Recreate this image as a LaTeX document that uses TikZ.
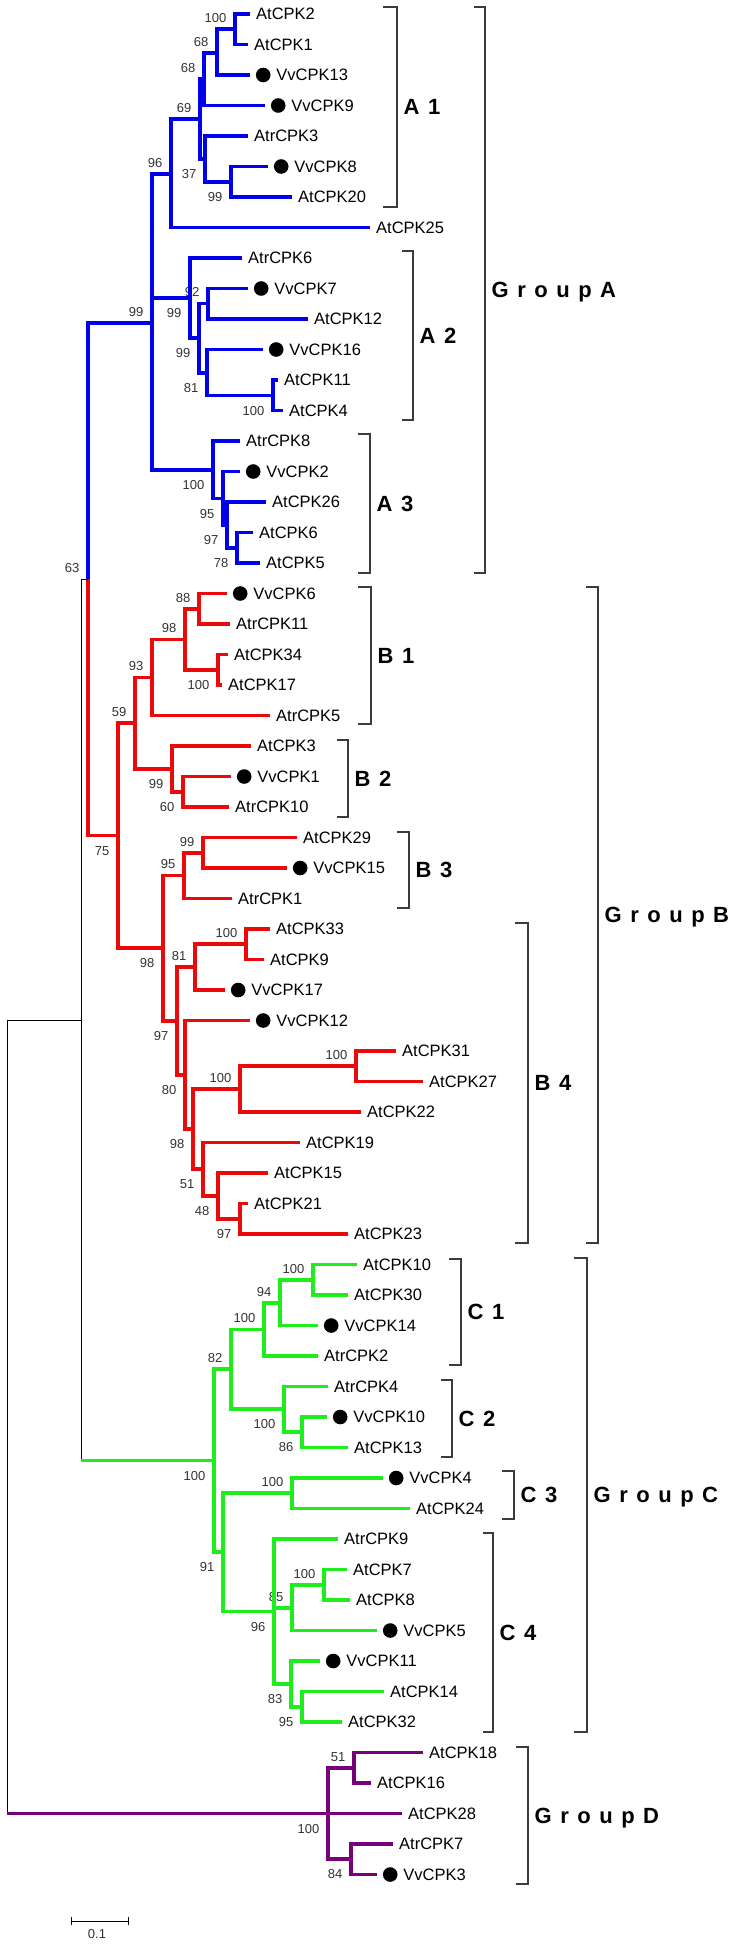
\documentclass[tikz,border=0pt]{standalone}
\usepackage{fontspec}
\setmainfont{Liberation Sans}
\usetikzlibrary{positioning}

\definecolor{treeblue}{RGB}{0,0,235}
\definecolor{treered}{RGB}{235,10,10}
\definecolor{treegreen}{RGB}{30,238,30}
\definecolor{treepurple}{RGB}{120,0,120}
\definecolor{brackgray}{RGB}{60,60,60}

\newcommand\groupfont{\bfseries\fontsize{22}{24}\selectfont\spaceskip=8.5pt\relax}

\tikzset{
  branch/.style={line width=3.3pt},
  bluebr/.style={branch, treeblue},
  redbr/.style={branch, treered},
  greenbr/.style={branch, treegreen},
  purplebr/.style={branch, treepurple},
  rootline/.style={line width=1pt, black},
  bracket/.style={line width=1.2pt, brackgray},
  leaflabel/.style={inner sep=0pt, anchor=west, font=\fontsize{16.5}{18}\selectfont, text height=11.8pt, text depth=0pt},
  vvdot/.style={circle, fill=black, inner sep=0pt, minimum size=14.6pt},
  bs/.style={inner sep=0pt, font=\fontsize{13}{14}\selectfont, text height=9.3pt, text depth=0pt, text=black!80},
  bsup/.style={bs, anchor=south east, xshift=-8.5pt, yshift=6.5pt},
  bsdn/.style={bs, anchor=north east, xshift=-8.5pt, yshift=-10pt},
  sublab/.style={inner sep=0pt, font=\groupfont, text height=15.8pt, text depth=0pt},
}

\begin{document}
\begin{tikzpicture}[x=1pt, y=-1pt]
  \useasboundingbox (0,0) rectangle (739,1946);

  % leaves: index / end of branch / name / grape dot
  \foreach \i/\x/\t/\v in {1/250/AtCPK2/0, 2/248/AtCPK1/0, 3/250/VvCPK13/1, 4/265/VvCPK9/1,
      5/248/AtrCPK3/0, 6/268/VvCPK8/1, 7/292/AtCPK20/0, 8/370/AtCPK25/0, 9/242/AtrCPK6/0,
      10/248/VvCPK7/1, 11/308/AtCPK12/0, 12/263/VvCPK16/1, 13/278/AtCPK11/0, 14/283/AtCPK4/0,
      15/240/AtrCPK8/0, 16/240/VvCPK2/1, 17/266/AtCPK26/0, 18/253/AtCPK6/0, 19/260/AtCPK5/0,
      20/227/VvCPK6/1, 21/230/AtrCPK11/0, 22/228/AtCPK34/0, 23/222/AtCPK17/0, 24/270/AtrCPK5/0,
      25/251/AtCPK3/0, 26/231/VvCPK1/1, 27/229/AtrCPK10/0, 28/297/AtCPK29/0, 29/287/VvCPK15/1,
      30/232/AtrCPK1/0, 31/270/AtCPK33/0, 32/264/AtCPK9/0, 33/225/VvCPK17/1, 34/250/VvCPK12/1,
      35/396/AtCPK31/0, 36/423/AtCPK27/0, 37/361/AtCPK22/0, 38/300/AtCPK19/0, 39/268/AtCPK15/0,
      40/248/AtCPK21/0, 41/348/AtCPK23/0, 42/357/AtCPK10/0, 43/348/AtCPK30/0, 44/318/VvCPK14/1,
      45/318/AtrCPK2/0, 46/328/AtrCPK4/0, 47/327/VvCPK10/1, 48/348/AtCPK13/0, 49/383/VvCPK4/1,
      50/410/AtCPK24/0, 51/338/AtrCPK9/0, 52/347/AtCPK7/0, 53/350/AtCPK8/0, 54/377/VvCPK5/1,
      55/320/VvCPK11/1, 56/384/AtCPK14/0, 57/342/AtCPK32/0, 58/423/AtCPK18/0, 59/371/AtCPK16/0,
      60/402/AtCPK28/0, 61/393/AtrCPK7/0, 62/377/VvCPK3/1}{
    \coordinate (l\i) at (\x,{14+(\i-1)*30.5});
    \ifnum\v=1
      \node[vvdot, right=5.7pt of l\i] (dot\i) {};
      \node[leaflabel, right=5.5pt of dot\i] (t\i) {\t};
    \else
      \node[leaflabel, right=6pt of l\i] (t\i) {\t};
    \fi
  }

  % inner nodes with bootstrap values
  \foreach \n/\x/\y/\b/\s in {a1/235/29/100/bsup, a2/217/53/68/bsup, a3/204/79/68/bsup,
      a5/231/182/99/bsdn, a4/205/159/37/bsdn, a6/200/119/69/bsup, a7/171/174/96/bsup,
      a8/208/303.5/92/bsup, a10/273/395.5/100/bsdn, a9/207/373/81/bsdn, a11/199/338/99/bsdn,
      a12/190/298/99/bsdn, a13/237/548/78/bsdn, a14/227/525/97/bsdn, a15/223/498.5/95/bsdn,
      a16/213/470/100/bsdn, aA/152/323/99/bsup,
      b1/199/609/88/bsup, b2/218/670/100/bsdn, b3/185/639.5/98/bsup, b4/152/677.5/93/bsup,
      b5/183/792/60/bsdn, b6/172/769/99/bsdn, b7/135/723/59/bsup, b8/203/853/99/bsup,
      b9/184/875.5/95/bsup, b10/246/944/100/bsup, b11/195/967/81/bsup, b12/356/1066/100/bsup,
      b13/240/1089/100/bsup, b14/240/1219/97/bsdn, b15/218/1196/48/bsdn, b16/203/1169/51/bsdn,
      b17/193/1129/98/bsdn, b18/185/1075/80/bsdn, b19/177/1021/97/bsdn, b20/163/948/98/bsdn,
      bB/118/835.5/75/bsdn,
      c1/313/1280/100/bsup, c2/280/1303/94/bsup, c3/264/1329.5/100/bsup, c4/302/1432/86/bsdn,
      c5/284/1409/100/bsdn, c6/231/1369/82/bsup, c7/292/1493/100/bsup, c8/324/1585/100/bsup,
      c9/292/1608/85/bsup, c10/302/1707/95/bsdn, c11/291/1684/83/bsdn, c12/274/1611.5/96/bsdn,
      c13/223/1552/91/bsdn, cC/214/1460.5/100/bsdn,
      d1/354/1768/51/bsup, d2/351/1859/84/bsdn, dD/328/1813.5/100/bsdn,
      nAB/88/579/63/bsup}{
    \coordinate (\n) at (\x,\y);
    \node[\s] (bs\n) at (\n) {\b};
  }
  \coordinate (nABC) at (81,1020);
  \coordinate (nRoot) at (7,1417);

  % branches
  \foreach \p/\c in {a1/l1, a1/l2, a2/a1, a2/l3, a3/a2, a3/l4, a5/l6, a5/l7, a4/l5, a4/a5,
      a6/a3, a6/a4, a7/a6, a7/l8, a8/l10, a8/l11, a10/l13, a10/l14, a9/l12, a9/a10,
      a11/a8, a11/a9, a12/l9, a12/a11, a13/l18, a13/l19, a14/l17, a14/a13, a15/l16,
      a15/a14, a16/l15, a16/a15, aA/a7, aA/a12, aA/a16, nAB/aA}
    \draw[bluebr] (\p) |- (\c);
  \foreach \p/\c in {b1/l20, b1/l21, b2/l22, b2/l23, b3/b1, b3/b2, b4/b3, b4/l24, b5/l26,
      b5/l27, b6/l25, b6/b5, b7/b4, b7/b6, b8/l28, b8/l29, b9/b8, b9/l30, b10/l31, b10/l32,
      b11/b10, b11/l33, b12/l35, b12/l36, b13/b12, b13/l37, b14/l40, b14/l41, b15/l39,
      b15/b14, b16/l38, b16/b15, b17/b13, b17/b16, b18/l34, b18/b17, b19/b11, b19/b18,
      b20/b9, b20/b19, bB/b7, bB/b20, nAB/bB}
    \draw[redbr] (\p) |- (\c);
  \foreach \p/\c in {c1/l42, c1/l43, c2/c1, c2/l44, c3/c2, c3/l45, c4/l47, c4/l48, c5/l46,
      c5/c4, c6/c3, c6/c5, c7/l49, c7/l50, c8/l52, c8/l53, c9/c8, c9/l54, c10/l56, c10/l57,
      c11/l55, c11/c10, c12/l51, c12/c9, c12/c11, c13/c7, c13/c12, cC/c6, cC/c13}
    \draw[greenbr] (\p) |- (\c);
  \foreach \p/\c in {d1/l58, d1/l59, d2/l61, d2/l62, dD/d1, dD/l60, dD/d2}
    \draw[purplebr] (\p) |- (\c);

  \draw[rootline] (nABC) |- (nAB);
  \draw[rootline] (nABC) |- (cC);
  \draw[greenbr] (nABC |- cC) -- (cC);
  \draw[rootline] (nRoot) |- (nABC);
  \draw[rootline] (nRoot) |- (dD);
  \draw[purplebr] (nRoot |- dD) -- (dD);

  % subgroup and group brackets
  \foreach \n/\xa/\xb/\ya/\yb/\t in {A1/383/397/7/207/A 1, A2/402/413/251/420/A 2,
      A3/358/370/434/573/A 3, GA/474/485/7/573/G r o u p A, B1/358/371/587/724/B 1,
      B2/337/348/740/817/B 2, B3/397/409/832/908/B 3, B4/515/528/923/1243/B 4,
      GB/586/598/587/1243/G r o u p B, C1/449/461/1259/1365/C 1, C2/441/452/1380/1457/C 2,
      C3/502/514/1471/1519/C 3, C4/483/493/1533/1732/C 4, GC/574/587/1258/1732/G r o u p C,
      GD/516/528/1747/1884/G r o u p D}{
    \draw[bracket] (\xa,\ya) -- (\xb,\ya) -- (\xb,\yb) -- (\xa,\yb);
    \coordinate (br\n) at (\xb,{(\ya+\yb)/2});
    \node[sublab, right=6.5pt of br\n] (lab\n) {\t};
  }

  % scale bar
  \coordinate (sbl) at (71,1921);
  \coordinate (sbr) at (128,1921);
  \coordinate (sbm) at (97,1921);
  \draw[rootline] (sbl) -- (sbr);
  \draw[rootline] ([yshift=4pt]sbl) -- ([yshift=-4pt]sbl);
  \draw[rootline] ([yshift=4pt]sbr) -- ([yshift=-4pt]sbr);
  \node[bs, below=8pt of sbm] (scalelab) {0.1};
\end{tikzpicture}
\end{document}
